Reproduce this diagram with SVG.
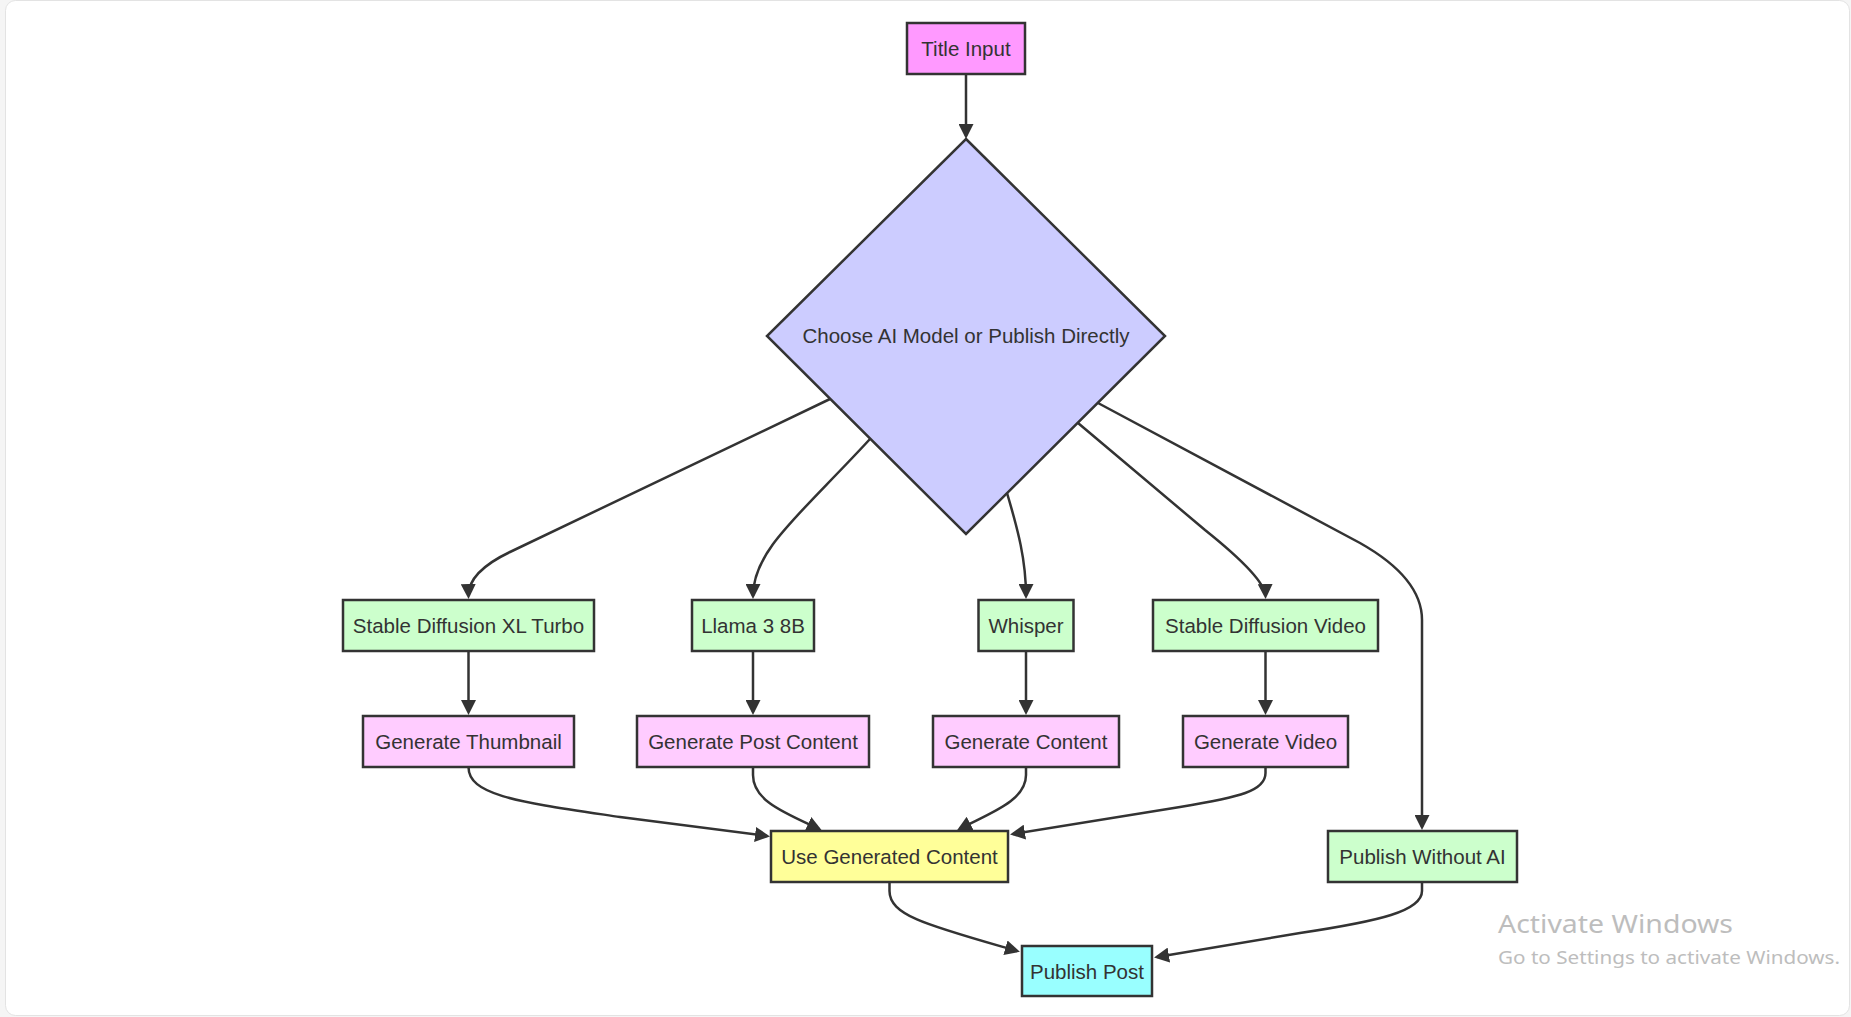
<svg xmlns="http://www.w3.org/2000/svg" width="1851" height="1017" viewBox="0 0 1851 1017">
<style>
.n{stroke:#333;stroke-width:2.5}
.t{font-family:"Liberation Sans",Arial,sans-serif;font-size:20.5px;fill:#333;text-anchor:middle}
.e{fill:none;stroke:#333;stroke-width:2.5}
.wm{font-family:"Noto Sans","Open Sans",sans-serif;fill:#bdbdbd}
</style>
<defs>
<marker id="ah" viewBox="0 0 10 10" refX="8" refY="5" markerUnits="userSpaceOnUse" markerWidth="15" markerHeight="15" orient="auto">
<path d="M0,0 L10,5 L0,10 z" fill="#333"/>
</marker>
</defs>
<rect x="0" y="0" width="1851" height="1017" fill="#f5f5f5"/>
<rect x="5.5" y="0.5" width="1844" height="1015" rx="10" fill="#fff" stroke="#e3e3e3"/>

<g id="connectors">
<path class="e" marker-end="url(#ah)" d="M966,74 L966,136"/>
<path class="e" marker-end="url(#ah)" d="M830,399 L510,552 Q468,572 468.5,596"/>
<path class="e" marker-end="url(#ah)" d="M870,439 C800,515 753,550 753,596"/>
<path class="e" marker-end="url(#ah)" d="M1007,493 C1018,530 1026,560 1026,596"/>
<path class="e" marker-end="url(#ah)" d="M1078,423 L1205,530 Q1265,578 1265.5,596"/>
<path class="e" marker-end="url(#ah)" d="M1098,403 L1360,543 Q1422,578 1422,620 L1422,827"/>
<path class="e" marker-end="url(#ah)" d="M468.5,651 L468.5,712"/>
<path class="e" marker-end="url(#ah)" d="M753,651 L753,712"/>
<path class="e" marker-end="url(#ah)" d="M1026,651 L1026,712"/>
<path class="e" marker-end="url(#ah)" d="M1265.5,651 L1265.5,712"/>
<path class="e" marker-end="url(#ah)" d="M468.5,767 C468.5,796 520,802 620,817 L767,836"/>
<path class="e" marker-end="url(#ah)" d="M753,767 L753,775 C753,801 785,813 819,829"/>
<path class="e" marker-end="url(#ah)" d="M1026,767 L1026,775 C1026,801 990,813 959.5,829"/>
<path class="e" marker-end="url(#ah)" d="M1265.5,767 L1265.5,773 C1265.5,791 1240,797 1180,807 L1013,834"/>
<path class="e" marker-end="url(#ah)" d="M889.5,882 L889.5,891 C889.5,916 930,926 1017,951"/>
<path class="e" marker-end="url(#ah)" d="M1422,882 L1422,891 C1422,911 1380,921 1300,933 L1157,957"/>
</g>

<g id="title-input"><rect class="n" x="907" y="23" width="118" height="51" fill="#ff99ff"/><text class="t" x="966" y="56">Title Input</text></g>
<g id="choose"><polygon class="n" points="966,139 1165,336 966,534 767,336" fill="#ccccff"/><text class="t" x="966" y="343">Choose AI Model or Publish Directly</text></g>
<g id="sdxl"><rect class="n" x="343" y="600" width="251" height="51" fill="#ccffcc"/><text class="t" x="468.5" y="633">Stable Diffusion XL Turbo</text></g>
<g id="llama"><rect class="n" x="692" y="600" width="122" height="51" fill="#ccffcc"/><text class="t" x="753" y="633">Llama 3 8B</text></g>
<g id="whisper"><rect class="n" x="978.5" y="600" width="95" height="51" fill="#ccffcc"/><text class="t" x="1026" y="633">Whisper</text></g>
<g id="sdv"><rect class="n" x="1153" y="600" width="225" height="51" fill="#ccffcc"/><text class="t" x="1265.5" y="633">Stable Diffusion Video</text></g>
<g id="gen-thumb"><rect class="n" x="363" y="716" width="211" height="51" fill="#ffccff"/><text class="t" x="468.5" y="749">Generate Thumbnail</text></g>
<g id="gen-post"><rect class="n" x="637" y="716" width="232" height="51" fill="#ffccff"/><text class="t" x="753" y="749">Generate Post Content</text></g>
<g id="gen-content"><rect class="n" x="933" y="716" width="186" height="51" fill="#ffccff"/><text class="t" x="1026" y="749">Generate Content</text></g>
<g id="gen-video"><rect class="n" x="1183" y="716" width="165" height="51" fill="#ffccff"/><text class="t" x="1265.5" y="749">Generate Video</text></g>
<g id="use-generated"><rect class="n" x="771" y="831" width="237" height="51" fill="#ffff99"/><text class="t" x="889.5" y="864">Use Generated Content</text></g>
<g id="publish-without-ai"><rect class="n" x="1328" y="831" width="189" height="51" fill="#ccffcc"/><text class="t" x="1422.5" y="864">Publish Without AI</text></g>
<g id="publish-post"><rect class="n" x="1022" y="946" width="130" height="50" fill="#99ffff"/><text class="t" x="1087" y="978.5">Publish Post</text></g>

<text class="wm" x="1498" y="933" font-size="26" textLength="235" lengthAdjust="spacingAndGlyphs">Activate Windows</text>
<text class="wm" x="1498" y="964" font-size="18" textLength="342" lengthAdjust="spacingAndGlyphs">Go to Settings to activate Windows.</text>
</svg>
